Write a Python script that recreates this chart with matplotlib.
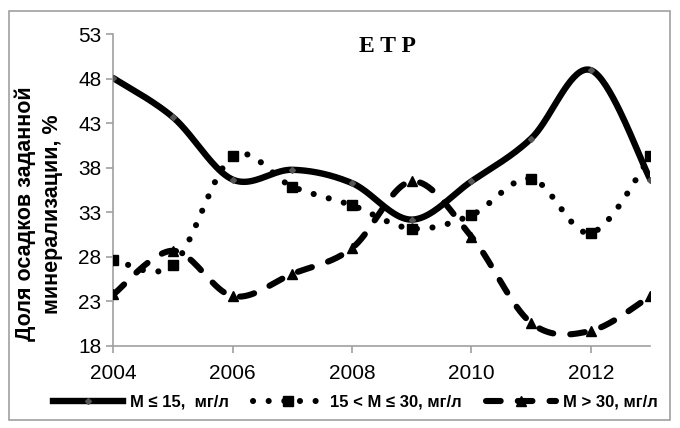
import numpy as np
import matplotlib
matplotlib.use("Agg")
import matplotlib.pyplot as plt
from matplotlib.lines import Line2D
from matplotlib.patches import Rectangle

# Data: share of precipitation with given mineralization, %
years = [2004, 2005, 2006, 2007, 2008, 2009, 2010, 2011, 2012, 2013]
low_min = [48.1, 43.7, 36.7, 37.8, 36.3, 32.2, 36.5, 41.3, 49.0, 36.7]
mid_min = [27.7, 27.1, 39.3, 35.9, 33.8, 31.2, 32.7, 36.8, 30.7, 39.3]
high_min = [23.8, 28.7, 23.6, 26.1, 29.0, 36.5, 30.3, 20.6, 19.7, 23.6]

series_labels = ["M ≤ 15,  мг/л", "15 < M ≤ 30, мг/л", "M > 30, мг/л"]
y_ticks = [18, 23, 28, 33, 38, 43, 48, 53]
x_ticks = [2004, 2006, 2008, 2010, 2012]


def smooth(xs, ys, n=40):
    """Bezier smoothing through every point (Catmull-Rom style control points)."""
    p = np.column_stack([xs, ys]).astype(float)
    pts = np.vstack([p[0], p, p[-1]])
    out = []
    t = np.linspace(0, 1, n)[:, None]
    for i in range(1, len(pts) - 2):
        p0, p1, p2, p3 = pts[i - 1], pts[i], pts[i + 1], pts[i + 2]
        c1 = p1 + (p2 - p0) / 6.0
        c2 = p2 - (p3 - p1) / 6.0
        seg = ((1 - t) ** 3) * p1 + 3 * ((1 - t) ** 2) * t * c1 \
            + 3 * (1 - t) * t ** 2 * c2 + t ** 3 * p2
        out.append(seg if i == 1 else seg[1:])
    c = np.vstack(out)
    return c[:, 0], c[:, 1]


plt.rcParams["font.family"] = ["Liberation Sans", "DejaVu Sans"]

fig = plt.figure(figsize=(6.8, 4.28), dpi=100)
ax = fig.add_axes([0.1667, 0.1916, 0.7898, 0.7278])

lw_solid = 4.6
lw_dot = 4.4
lw_dash = 4.4
dot_style = (0, (0.01, 2.55))
dash_style = (0, (2.4, 2.8))

sx, sy = smooth(years, low_min)
ax.plot(sx, sy, color="black", lw=lw_solid, solid_capstyle="round", zorder=3)
ax.plot(years, low_min, ls="none", marker="D", ms=3, color="#555555", zorder=4)

sx, sy = smooth(years, mid_min)
ax.plot(sx, sy, color="black", lw=lw_dot, ls=dot_style, dash_capstyle="round", zorder=3)
ax.plot(years, mid_min, ls="none", marker="s", ms=7, color="black", zorder=4)

sx, sy = smooth(years, high_min)
ax.plot(sx, sy, color="black", lw=lw_dash, ls=dash_style, dash_capstyle="round", zorder=3)
ax.plot(years, high_min, ls="none", marker="^", ms=7.5, color="black", zorder=4)

ax.set_xlim(2004, 2013)
ax.set_ylim(18, 53)
ax.set_xticks(x_ticks)
ax.set_yticks(y_ticks)
ax.tick_params(axis="both", direction="out", length=5, width=1.2, color="#a0a0a0",
               labelsize=15, labelcolor="black")
ax.tick_params(axis="y", pad=3.5)
ax.tick_params(axis="x", pad=8)
for side in ("top", "right"):
    ax.spines[side].set_visible(False)
for side in ("left", "bottom"):
    ax.spines[side].set_color("#a0a0a0")
    ax.spines[side].set_linewidth(1.2)

fig.text(39 / 680, 1 - 214 / 428, "Доля осадков заданной\nминерализации, %", rotation=90,
         ha="center", va="center", fontsize=15.5, fontweight="bold", linespacing=1.4)

fig.text(387.5 / 680, 1 - 46.5 / 428, "E T P",
         ha="center", va="center", fontsize=17, fontweight="bold",
         family=["Liberation Serif", "DejaVu Serif"])

handles = [
    Line2D([], [], color="black", lw=lw_solid, marker="D", ms=3, mfc="#555555", mec="#555555"),
    Line2D([], [], color="black", lw=lw_dot, ls=dot_style, dash_capstyle="round",
           marker="s", ms=7),
    Line2D([], [], color="black", lw=lw_dash, ls=dash_style, dash_capstyle="round",
           marker="^", ms=7.5),
]
fig.legend(handles, series_labels, loc="center", bbox_to_anchor=(355 / 680, 1 - 402 / 428),
           ncol=3, frameon=False, numpoints=1, handlelength=4.2, handletextpad=0.42,
           columnspacing=1.45, prop={"size": 12, "weight": "bold"})

fig.patches.append(Rectangle((9 / 680, 1 - 420 / 428), 661 / 680, 409 / 428,
                             transform=fig.transFigure, fill=False,
                             edgecolor="#a0a0a0", lw=1.2))

fig.savefig("out.png", dpi=100)
